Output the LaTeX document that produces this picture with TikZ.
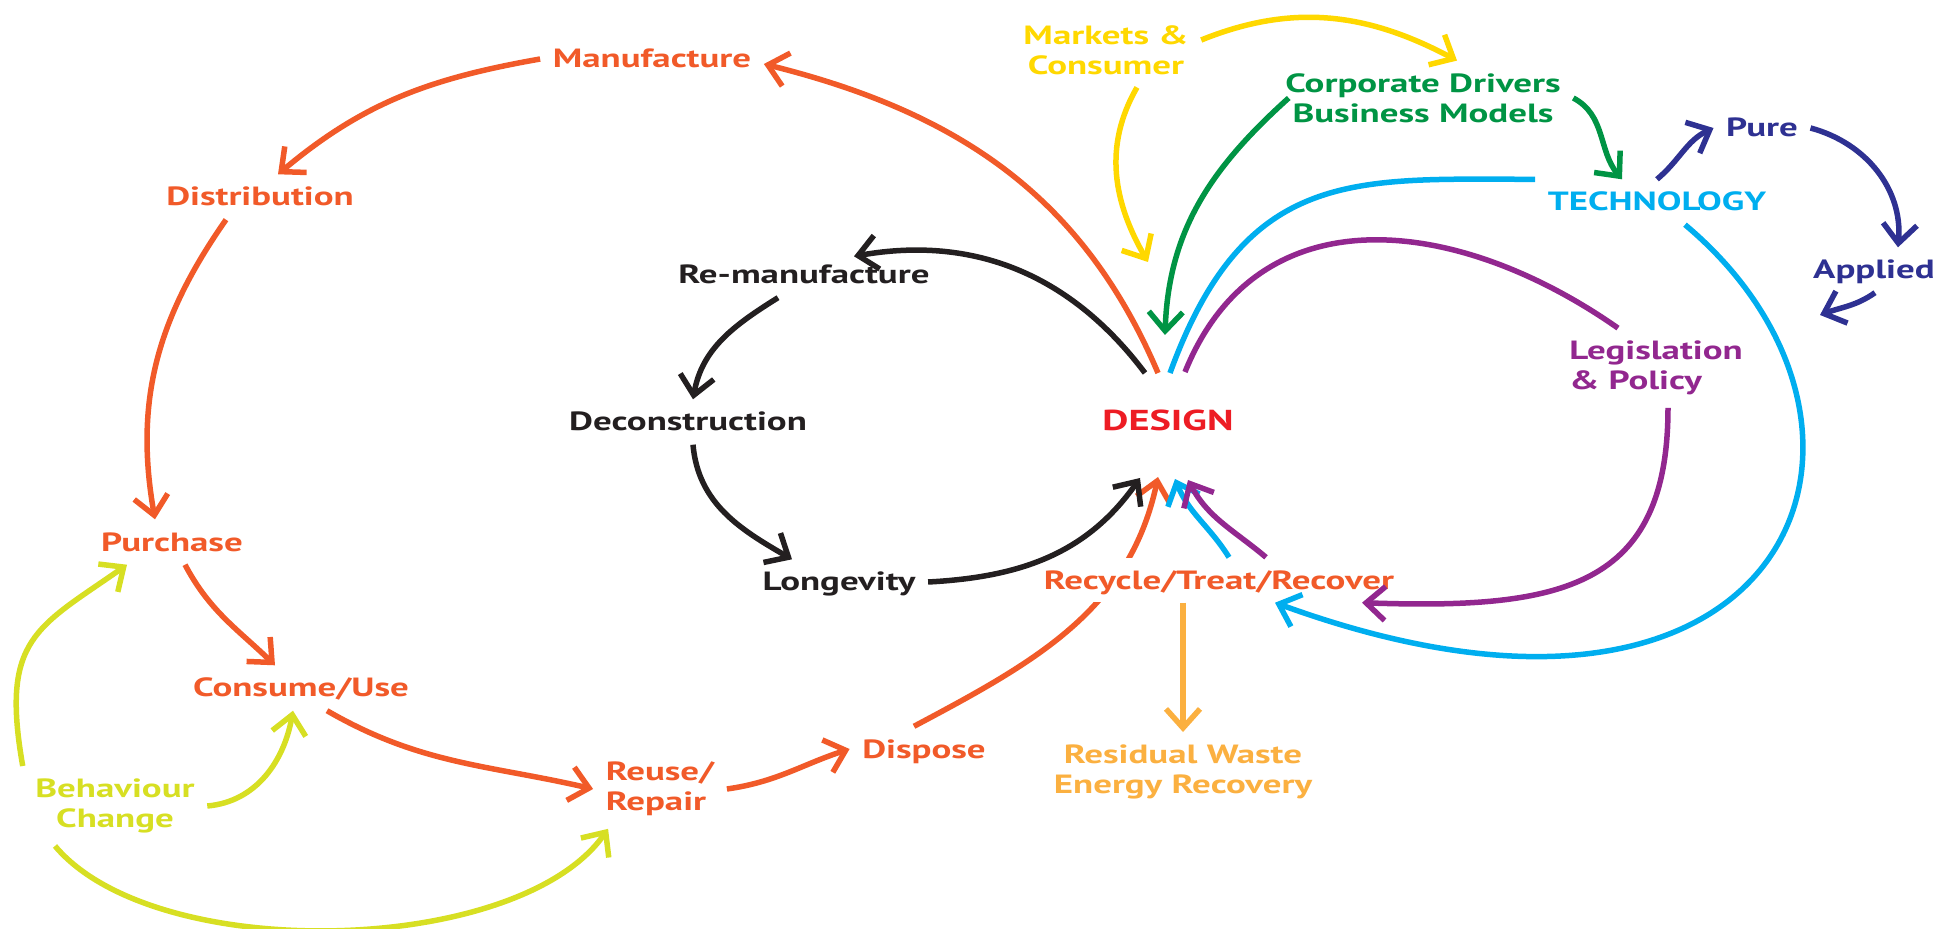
\documentclass[tikz,border=0pt]{standalone}
\usepackage{fontspec}
\usepackage{tikz}
\usetikzlibrary{arrows.meta}

\newfontfamily\lblfont{PT Sans}[FakeStretch=1.4]

\definecolor{cycorange}{RGB}{241,90,41}
\definecolor{designred}{RGB}{237,28,36}
\definecolor{loopblack}{RGB}{35,31,32}
\definecolor{mktyellow}{RGB}{255,216,0}
\definecolor{corpgreen}{RGB}{0,148,68}
\definecolor{techcyan}{RGB}{0,174,239}
\definecolor{resnavy}{RGB}{46,49,146}
\definecolor{legpurple}{RGB}{146,39,143}
\definecolor{wasteamber}{RGB}{251,176,64}
\definecolor{behavlime}{RGB}{215,223,35}

\begin{document}
\begin{tikzpicture}[x=0.1mm,y=0.1mm,>={Straight Barb[length=1.9mm,width=3.4mm]},
        every edge/.style={draw,line width=0.55mm},
        lbltwo/.style={font=\lblfont\bfseries\fontsize{7.5}{8.6}\selectfont,inner sep=1.2mm},
        lbl/.style={lbltwo,text height=1.9mm,text depth=0.1mm}]
  \useasboundingbox (0,0) rectangle (1937,-929);

  % outer life cycle
  \node[lbl,text=cycorange]                (manu)    at (652,-59)   {Manufacture};
  \node[lbl,text=cycorange]                (dist)    at (260,-197)  {Distribution};
  \node[lbl,text=cycorange]                (purch)   at (172,-542)  {Purchase};
  \node[lbl,text=cycorange]                (cons)    at (301,-688)  {Consume/Use};
  \node[lbltwo,text=cycorange,align=left]  (reuse)   at (660,-789)  {Reuse/\\Repair};
  \node[lbl,text=cycorange]                (dispose) at (924,-749)  {Dispose};

  % inner loop
  \node[lbl,text=loopblack] (reman)  at (804,-275) {Re-manufacture};
  \node[lbl,text=loopblack] (decon)  at (688,-422) {Deconstruction};
  \node[lbl,text=loopblack] (longev) at (839,-582) {Longevity};

  \node[lbl,text=designred,font=\lblfont\bfseries\fontsize{8.2}{9}\selectfont] (design) at (1168,-422) {DESIGN};

  % drivers
  \node[lbltwo,text=mktyellow,align=center]   (markets)  at (1106,-50)  {Markets \&\\Consumer};
  \node[lbltwo,text=corpgreen,align=center]   (corp)     at (1423,-98)  {Corporate Drivers\\Business Models};
  \node[lbl,text=techcyan]                    (tech)     at (1657,-202) {TECHNOLOGY};
  \node[lbl,text=resnavy]                     (pure)     at (1762,-128) {Pure};
  \node[lbl,text=resnavy]                     (applied)  at (1874,-270) {Applied};
  \node[lbltwo,text=legpurple,align=left]     (legis)    at (1656,-368) {Legislation\\\& Policy};
  \node[lbltwo,text=wasteamber,align=center]  (residual) at (1183,-772) {Residual Waste\\Energy Recovery};
  \node[lbltwo,text=behavlime,align=center]   (behav)    at (115,-806)  {Behaviour\\Change};

  % where the lines meet above and below DESIGN
  \coordinate (kT) at (1145,-373);
  \coordinate (oT) at (1158,-373);
  \coordinate (gT) at (1165,-335);
  \coordinate (cT) at (1170,-373);
  \coordinate (pT) at (1185,-372);
  \coordinate (yT) at (1148,-262);
  \coordinate (kB) at (1140,-478);
  \coordinate (oB) at (1158,-477);
  \coordinate (cB) at (1175,-479);
  \coordinate (pB) at (1188,-480);
  \coordinate (appTip) at (1820,-315);

  % orange cycle
  \path[->,cycorange] (oT) edge[out=113,in=-14] ([yshift=-0.5mm]manu.east)
        (manu.west) edge[out=190,in=40] ([xshift=1.8mm]dist.north)
        ([xshift=-3.4mm]dist.south) edge[out=235,in=100] ([xshift=-1.7mm]purch.north)
        ([xshift=1.3mm]purch.south) edge[out=-62,in=136] ([xshift=-2.6mm]cons.north)
        ([xshift=2.6mm]cons.south) edge[out=-30,in=167] (reuse.west)
        (reuse.east) edge[out=8,in=-162] (dispose.west)
        ([xshift=-1mm]dispose.north) edge[out=28,in=-102] (oB);

  \node[lbl,text=cycorange,fill=white] (recycle) at (1219,-580) {Recycle/Treat/Recover};

  % black loop
  \path[->,loopblack] (kT) edge[out=127,in=10] ([xshift=5mm,yshift=-0.4mm]reman.north)
        ([xshift=-2.6mm]reman.south) edge[out=212,in=80] ([xshift=0.5mm]decon.north)
        ([xshift=0.5mm]decon.south) edge[out=-85,in=150] ([xshift=-4.7mm]longev.north)
        (longev.east) edge[out=3,in=235] (kB);

  % markets
  \path[->,mktyellow] ([yshift=1mm]markets.east) edge[out=22,in=152] ([xshift=3.4mm]corp.north)
        ([xshift=3.1mm]markets.south) edge[out=240,in=120] (yT);

  % corporate
  \path[->,corpgreen] ([xshift=1.6mm]corp.west) edge[out=222,in=88] (gT)
        (corp.east) edge[out=-28,in=130] ([xshift=-3.5mm]tech.north);

  % technology
  \path[techcyan] (cT) edge[out=70,in=180,out distance=22mm,in distance=18mm] (tech.north west);
  \path[->,techcyan] ([xshift=2.8mm]tech.south) edge[out=-40,in=-20,out distance=32mm,in distance=55mm] ([xshift=5.6mm]recycle.south)
        ([xshift=1mm]recycle.north) edge[out=122,in=-68] (cB);
  \path[->,resnavy] (tech.north) edge[out=40,in=-155] (pure.west)
        (pure.east) edge[out=-15,in=85] ([xshift=2.4mm]applied.north)
        ([xshift=0.1mm]applied.south) edge[out=215,in=20] (appTip);

  % legislation
  \path[legpurple] (pT) edge[out=68,in=145,looseness=1.15] ([xshift=-3.8mm]legis.north);
  \path[->,legpurple] ([xshift=1.2mm]legis.south) edge[out=-90,in=-2,out distance=18mm,in distance=20mm] ([xshift=14.3mm]recycle.south)
        ([xshift=4.7mm]recycle.north) edge[out=140,in=-62] (pB);

  % residual waste
  \path[->,wasteamber] (recycle.south -| residual.north) edge (residual.north);

  % behaviour change
  \path[->,behavlime] (behav.north west) edge[out=100,in=215,out distance=13mm,in distance=11mm] ([xshift=-4.5mm]purch.south)
        (behav.east) edge[out=5,in=-100] ([xshift=-0.8mm]cons.south)
        ([xshift=-6mm]behav.south) edge[out=-50,in=235,looseness=0.72] ([xshift=1.5mm]reuse.south west);
\end{tikzpicture}
\end{document}
